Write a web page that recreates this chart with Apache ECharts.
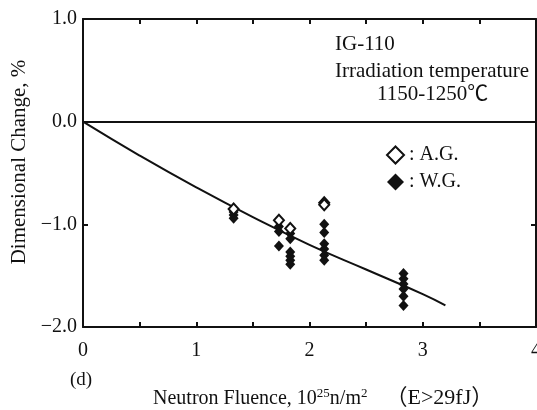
<!DOCTYPE html>
<html>
<head>
<meta charset="utf-8">
<script src="https://cdn.jsdelivr.net/npm/echarts@6/dist/echarts.min.js"></script>
<style>
  html, body { margin: 0; padding: 0; background: #fff; }
  #chart { width: 537px; height: 410px; }
</style>
</head>
<body>
<div id="chart"></div>
<script>
// 数据：照射量 (10^25 n/m^2) 与尺寸变化 (%)
const agX = [1.33, 1.73, 1.83, 2.13, 2.13];
const agY = [-0.85, -0.96, -1.04, -0.79, -0.81];
const wgX = [1.33, 1.33, 1.33, 1.73, 1.73, 1.73, 1.83, 1.83, 1.83, 1.83, 1.83, 1.83,
  2.13, 2.13, 2.13, 2.13, 2.13, 2.13, 2.83, 2.83, 2.83, 2.83, 2.83, 2.83];
const wgY = [-0.88, -0.91, -0.94, -1.02, -1.07, -1.21, -1.09, -1.14, -1.27, -1.31, -1.35, -1.39,
  -1.00, -1.08, -1.19, -1.24, -1.30, -1.35, -1.48, -1.53, -1.58, -1.63, -1.70, -1.79];
// 拟合曲线
const fitX = [0, 0.5, 1.0, 1.5, 2.0, 2.5, 3.0, 3.2];
const fitY = [0, -0.33, -0.64, -0.93, -1.2, -1.44, -1.68, -1.79];
// 刻度标签
const xTickLabels = ["0", "1", "2", "3", "4"];
const yTickLabels = { "1": "1.0", "0": "0.0", "-1": "\u22121.0", "-2": "\u22122.0" };

const font = "'Liberation Serif', 'Noto Sans CJK SC', serif";
const ink = "#111";

const zip = (xs, ys) => xs.map((x, i) => [x, ys[i]]);

const chart = echarts.init(document.getElementById("chart"));

const axisCommon = {
  type: "value",
  axisLine: { show: true, onZero: false, lineStyle: { color: ink, width: 2 } },
  axisTick: { show: true, inside: true, length: 5, lineStyle: { color: ink, width: 2 } },
  splitLine: { show: false },
};
const minorX = { show: true, splitNumber: 2, length: 5, lineStyle: { color: ink, width: 2 } };

const option = {
  animation: false,
  backgroundColor: "#fff",
  grid: { left: 83, right: 1, top: 19, bottom: 83, containLabel: false, outerBoundsMode: "none" },
  xAxis: [
    {
      ...axisCommon,
      min: 0, max: 4, interval: 1,
      minorTick: minorX,
      axisLabel: {
        margin: 14, color: ink, fontFamily: font, fontSize: 20,
        formatter: (v) => xTickLabels[Math.round(v)],
      },
    },
    {
      ...axisCommon,
      position: "top",
      min: 0, max: 4, interval: 1,
      minorTick: minorX,
      axisLabel: { show: false },
    },
  ],
  yAxis: [
    {
      ...axisCommon,
      min: -2, max: 1, interval: 1,
      axisLabel: {
        margin: 6, color: ink, fontFamily: font, fontSize: 20,
        formatter: (v) => yTickLabels[String(Math.round(v))],
      },
    },
    {
      ...axisCommon,
      position: "right",
      min: -2, max: 1, interval: 1,
      axisLabel: { show: false },
    },
  ],
  legend: {
    orient: "vertical",
    left: 381, top: 140,
    itemWidth: 17, itemHeight: 17, itemGap: 7,
    data: ["A.G.", "W.G."],
    formatter: (name) => ": " + name,
    textStyle: { color: ink, fontFamily: font, fontSize: 20 },
  },
  graphic: [
    {
      type: "text", left: 335, top: 34,
      style: { text: "IG-110", fill: ink, font: "21px " + font },
    },
    {
      type: "text", left: 335, top: 61,
      style: { text: "Irradiation temperature", fill: ink, font: "21px " + font },
    },
    {
      type: "text", left: 377, top: 84,
      style: { text: "1150-1250\u2103", fill: ink, font: "21px " + font },
    },
    {
      type: "text", left: 70, top: 371,
      style: { text: "(d)", fill: ink, font: "19px " + font },
    },
    {
      type: "text", left: 153, top: 387,
      style: {
        text: "{t|Neutron Fluence, 10}{s|25}{t|n/m}{s|2}{p|\uff08E>29fJ\uff09}",
        fill: ink,
        rich: {
          t: { fontFamily: font, fontSize: 20, lineHeight: 22, verticalAlign: "bottom" },
          s: { fontFamily: font, fontSize: 13, lineHeight: 13, verticalAlign: "top" },
          p: { fontFamily: font, fontSize: 22, lineHeight: 22, verticalAlign: "bottom", padding: [0, 0, 0, 18] },
        },
      },
    },
    {
      type: "text",
      x: 19, y: 162,
      rotation: Math.PI / 2,
      style: {
        text: "Dimensional Change, %",
        fill: ink, font: "21px " + font,
        align: "center", verticalAlign: "middle",
      },
    },
  ],
  series: [
    {
      name: "fit",
      type: "line",
      data: zip(fitX, fitY),
      smooth: true,
      showSymbol: false,
      lineStyle: { color: ink, width: 2 },
      silent: true,
      markLine: {
        silent: true,
        symbol: "none",
        label: { show: false },
        lineStyle: { color: ink, width: 2, type: "solid" },
        data: [{ yAxis: 0 }],
      },
      z: 1,
    },
    {
      name: "A.G.",
      type: "scatter",
      symbol: "diamond",
      symbolSize: [10, 11],
      data: zip(agX, agY),
      itemStyle: { color: "#fff", borderColor: ink, borderWidth: 2, opacity: 1 },
      z: 3,
    },
    {
      name: "W.G.",
      type: "scatter",
      symbol: "diamond",
      symbolSize: [10, 11],
      data: zip(wgX, wgY),
      itemStyle: { color: ink, opacity: 1 },
      z: 2,
    },
  ],
};

chart.setOption(option);
</script>
</body>
</html>
